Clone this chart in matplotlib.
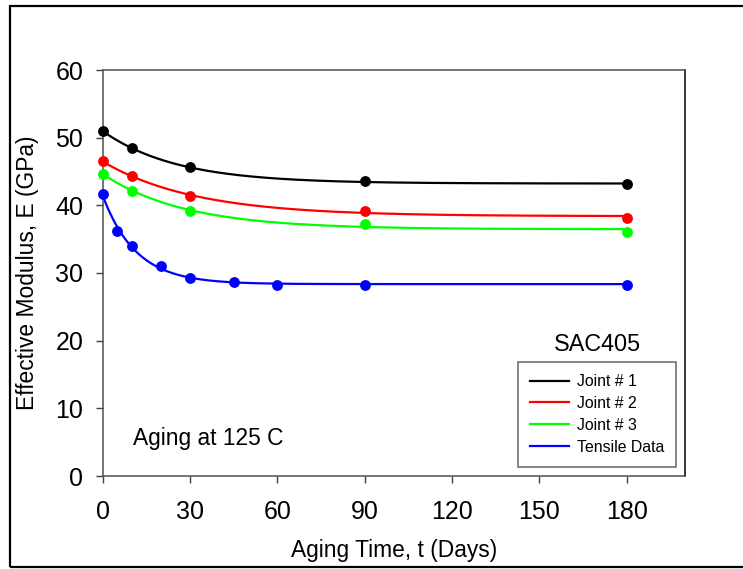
import numpy as np
import matplotlib
matplotlib.use("Agg")
import matplotlib.pyplot as plt
from matplotlib.lines import Line2D
from matplotlib.patches import Rectangle

plt.rcParams['font.family'] = ['Liberation Sans', 'DejaVu Sans']

# Measured effective modulus (GPa) versus aging time (days) at 125 C
t_joint = np.array([0, 10, 30, 90, 180])
e_joint1 = np.array([51.0, 48.4, 45.6, 43.6, 43.1])
e_joint2 = np.array([46.5, 44.3, 41.4, 39.2, 38.2])
e_joint3 = np.array([44.7, 42.1, 39.2, 37.3, 36.1])

t_tensile = np.array([0, 5, 10, 20, 30, 45, 60, 90, 180])
e_tensile = np.array([41.7, 36.2, 34.0, 31.0, 29.3, 28.7, 28.3, 28.3, 28.3])

series_labels = ["Joint # 1", "Joint # 2", "Joint # 3", "Tensile Data"]
series_colors = ["#000000", "#ff0000", "#00ff00", "#0000ff"]

x_ticks = [0, 30, 60, 90, 120, 150, 180]
y_ticks = [0, 10, 20, 30, 40, 50, 60]


def fit_decay(t, e):
    """Least-squares fit of E(t) = a + b*exp(-t/tau), scanning tau."""
    best = None
    for tau in np.linspace(1.0, 120.0, 2400):
        basis = np.column_stack([np.ones_like(t, dtype=float), np.exp(-t / tau)])
        coef, *_ = np.linalg.lstsq(basis, e, rcond=None)
        err = np.sum((basis @ coef - e) ** 2)
        if best is None or err < best[0]:
            best = (err, coef[0], coef[1], tau)
    _, a, b, tau = best
    return lambda tt: a + b * np.exp(-tt / tau)


fig = plt.figure(figsize=(7.43, 5.69), dpi=100)
ax = fig.add_axes([102.7 / 743, 1 - 476 / 569, (685 - 102.7) / 743, (476 - 70) / 569])

# Outer frame around the figure
fig.patches.append(Rectangle((10 / 743, 1.6 / 569), 1.2, 1 - 7.5 / 569,
                             transform=fig.transFigure, fill=False,
                             edgecolor="black", linewidth=1.6, clip_on=False))

data = [(t_joint, e_joint1), (t_joint, e_joint2), (t_joint, e_joint3),
        (t_tensile, e_tensile)]
t_smooth = np.linspace(0, 180, 400)
for (t, e), col in zip(data, series_colors):
    curve = fit_decay(t.astype(float), e)
    ax.plot(t_smooth, curve(t_smooth), color=col, linewidth=1.6, zorder=2)
    ax.plot(t, e, linestyle="none", marker="o", markersize=7.8, color=col,
            markeredgewidth=0, zorder=3, clip_on=False)

ax.set_xlim(0, 200)
ax.set_ylim(0, 60)
ax.set_xticks(x_ticks)
ax.set_yticks(y_ticks)
ax.tick_params(axis="both", direction="out", length=5, width=1.0, color="#404040",
               labelsize=18)
ax.tick_params(axis="x", pad=12)
ax.tick_params(axis="y", pad=9)
for side in ["left", "bottom", "top"]:
    ax.spines[side].set_color("#505050")
    ax.spines[side].set_linewidth(1.1)
ax.spines["right"].set_color("#000000")
ax.spines["right"].set_linewidth(1.1)

ax.set_xlabel("Aging Time, t (Days)", fontsize=16.4)
ax.set_ylabel("Effective Modulus, E (GPa)", fontsize=16.4)
ax.xaxis.set_label_coords(0.5, -(551 - 476) / 406, transform=ax.transAxes)
ax.yaxis.set_label_coords(-(102.7 - 27.5) / 582.3, 0.5, transform=ax.transAxes)
ax.xaxis.label.set_va("center")
ax.yaxis.label.set_va("center")

ax.text((132.7 - 102.7) / 582.3, (476 - 438) / 406, "Aging at 125 C",
        transform=ax.transAxes, fontsize=16.4, ha="left", va="center")
ax.text((597 - 102.7) / 582.3, (476 - 344.7) / 406, "SAC405",
        transform=ax.transAxes, fontsize=16.8, ha="center", va="center")

handles = [Line2D([], [], color=c, linewidth=1.6) for c in series_colors]
leg = ax.legend(handles, series_labels, loc="upper left",
                bbox_to_anchor=((517.7 - 102.7) / 582.3, (476 - 361.7) / 406),
                fontsize=11.4, frameon=True, fancybox=False, shadow=False,
                handlelength=2.45, handletextpad=0.5, labelspacing=0.44,
                borderpad=0.78, borderaxespad=0.0)
leg.get_frame().set_edgecolor("#404040")
leg.get_frame().set_linewidth(1.1)

fig.savefig("out.png", dpi=100)
